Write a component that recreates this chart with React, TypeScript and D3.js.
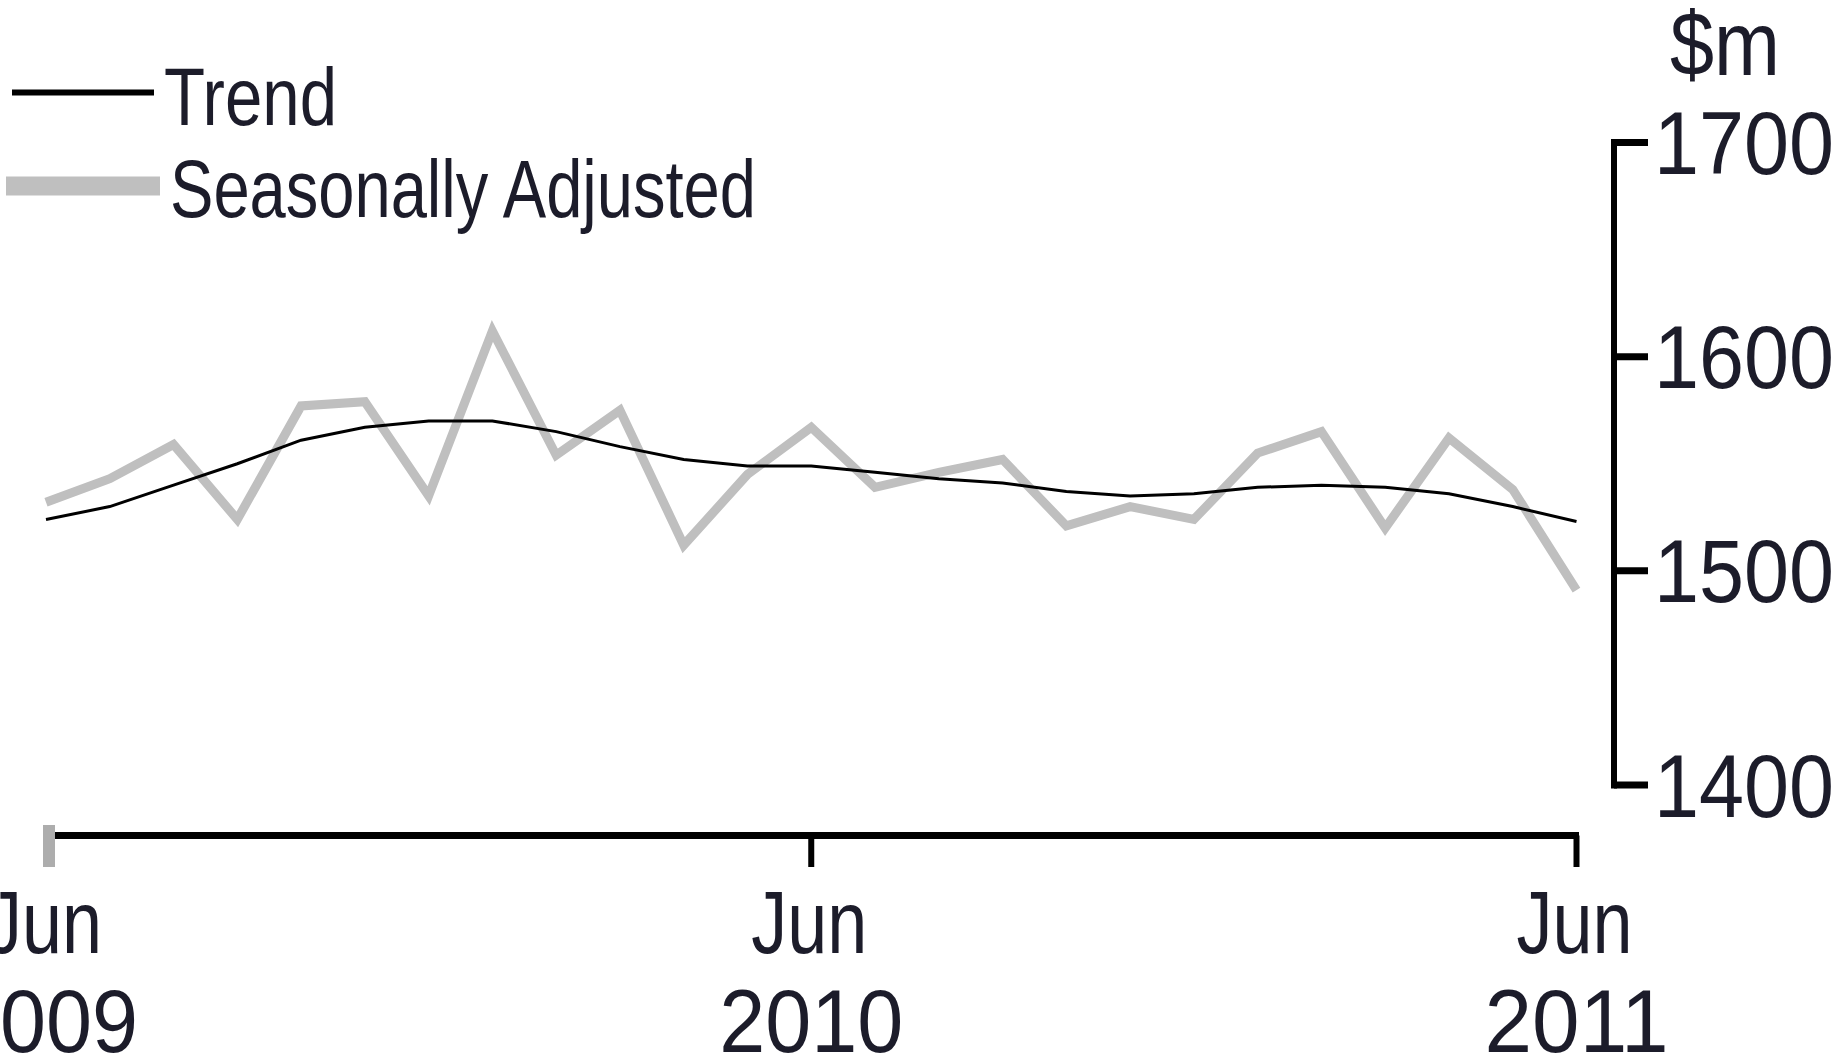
import React from "react";
import * as d3 from "d3";

const months = [
  "Jun 2009", "Jul 2009", "Aug 2009", "Sep 2009", "Oct 2009", "Nov 2009", "Dec 2009",
  "Jan 2010", "Feb 2010", "Mar 2010", "Apr 2010", "May 2010", "Jun 2010", "Jul 2010",
  "Aug 2010", "Sep 2010", "Oct 2010", "Nov 2010", "Dec 2010", "Jan 2011", "Feb 2011",
  "Mar 2011", "Apr 2011", "May 2011", "Jun 2011",
];

const seasonallyAdjusted = [
  1532, 1543, 1559, 1524, 1577, 1579, 1535, 1612, 1554, 1575, 1512, 1545, 1567,
  1539, 1546, 1552, 1521, 1530, 1524, 1555, 1565, 1520, 1562, 1538, 1491,
];

const trend = [
  1524, 1530, 1540, 1550, 1561, 1567, 1570, 1570, 1565, 1558, 1552, 1549, 1549,
  1546, 1543, 1541, 1537, 1535, 1536, 1539, 1540, 1539, 1536, 1530, 1523,
];

const yTicks = [1400, 1500, 1600, 1700];
const xTickMonths = ["Jun 2009", "Jun 2010", "Jun 2011"];
const unitLabel = "$m";
const legendLabels = ["Trend", "Seasonally Adjusted"];

const FONT = "'Liberation Sans Narrow', 'Liberation Sans', Arial, sans-serif";
const TEXT = "#1c1c2a";

export default function App() {
  const x = d3.scaleLinear().domain([0, months.length - 1]).range([46, 1576.5]);
  const y = d3.scaleLinear().domain([1400, 1700]).range([785, 142.5]);

  const line = d3
    .line<number>()
    .x((_, i) => x(i))
    .y((d) => y(d))
    .curve(d3.curveLinear);

  const axisX = 1614;
  const axisY = 835.5;

  return (
    <svg
      width={1836}
      height={1059}
      style={{ position: "absolute", left: 0, top: 0, background: "#fff", overflow: "hidden" }}
      fontFamily={FONT}
    >
      <rect x={0} y={0} width={1836} height={1059} fill="#fff" />

      {/* legend */}
      <line x1={12} x2={154} y1={92.5} y2={92.5} stroke="#000" strokeWidth={6} />
      <text x={164} y={125} fontSize={82} fill={TEXT} textLength={173} lengthAdjust="spacingAndGlyphs">
        {legendLabels[0]}
      </text>
      <line x1={6} x2={160} y1={186} y2={186} stroke="#bfbfbf" strokeWidth={19} />
      <text x={170} y={217} fontSize={82} fill={TEXT} textLength={586} lengthAdjust="spacingAndGlyphs">
        {legendLabels[1]}
      </text>

      {/* series */}
      <path d={line(seasonallyAdjusted) || ""} fill="none" stroke="#bfbfbf" strokeWidth={9} strokeLinejoin="miter" />
      <path d={line(trend) || ""} fill="none" stroke="#000" strokeWidth={3} />

      {/* y axis */}
      <line x1={axisX} x2={axisX} y1={y(1700) - 3.5} y2={y(1400) + 3.5} stroke="#000" strokeWidth={6} />
      {yTicks.map((t) => (
        <g key={t}>
          <line x1={axisX} x2={1648} y1={y(t)} y2={y(t)} stroke="#000" strokeWidth={7} />
          <text x={1654} y={y(t) + 31.5} fontSize={89} fill={TEXT} textLength={180} lengthAdjust="spacingAndGlyphs">
            {t}
          </text>
        </g>
      ))}
      <text x={1670} y={75} fontSize={90} fill={TEXT} textLength={110} lengthAdjust="spacingAndGlyphs">
        {unitLabel}
      </text>

      {/* x axis */}
      <line x1={49} x2={x(months.length - 1) + 2.5} y1={axisY} y2={axisY} stroke="#000" strokeWidth={7} />
      {xTickMonths.map((m, k) => {
        const i = months.indexOf(m);
        const cx = x(i);
        const [mon, yr] = m.split(" ");
        return (
          <g key={m}>
            {k === 0 ? (
              <rect x={43} y={825} width={12} height={42} fill="#adadad" />
            ) : (
              <line x1={cx} x2={cx} y1={axisY} y2={867} stroke="#000" strokeWidth={6} />
            )}
            <text x={cx - 2} y={953} fontSize={89} fill={TEXT} textAnchor="middle" textLength={116} lengthAdjust="spacingAndGlyphs">
              {mon}
            </text>
            <text x={cx} y={1052} fontSize={89} fill={TEXT} textAnchor="middle" textLength={184} lengthAdjust="spacingAndGlyphs">
              {yr}
            </text>
          </g>
        );
      })}
    </svg>
  );
}
